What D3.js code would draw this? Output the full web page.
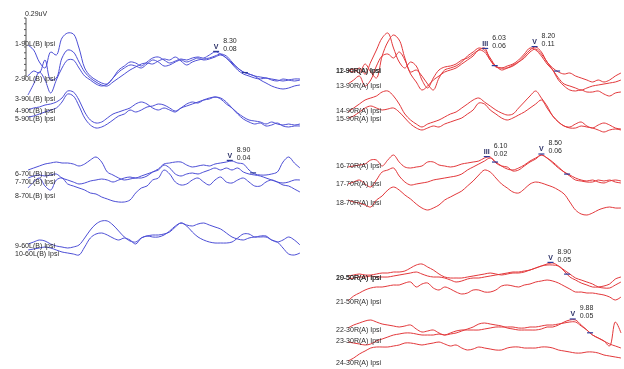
<!DOCTYPE html>
<html>
<head>
<meta charset="utf-8">
<script src="https://cdn.jsdelivr.net/npm/d3@7"></script>
<style>
  html, body { margin: 0; padding: 0; background: #fff; }
  text { font-family: "Liberation Sans", Arial, sans-serif; }
</style>
</head>
<body>
<svg id="chart" width="624" height="369"></svg>
<script>
// ---------------------------------------------------------------
// ABR recordings: amplitude in nV, sampled every 0.25 ms, 0–12 ms
// ---------------------------------------------------------------
const sampleStep = 0.25;
const sampleTimes = d3.range(0, 12 + sampleStep / 2, sampleStep);

const traceLabels = [
  "1-90L(B) Ipsi", "2-90L(B) Ipsi", "3-90L(B) Ipsi", "4-90L(B) Ipsi", "5-90L(B) Ipsi",
  "6-70L(B) Ipsi", "7-70L(B) Ipsi", "8-70L(B) Ipsi", "9-60L(B) Ipsi", "10-60L(B) Ipsi",
  "11-90R(A) Ipsi", "12-90R(A) Ipsi", "13-90R(A) Ipsi", "14-90R(A) Ipsi", "15-90R(A) Ipsi",
  "16-70R(A) Ipsi", "17-70R(A) Ipsi", "18-70R(A) Ipsi", "19-50R(A) Ipsi", "20-50R(A) Ipsi",
  "21-50R(A) Ipsi", "22-30R(A) Ipsi", "23-30R(A) Ipsi", "24-30R(A) Ipsi"
];

// Left ear (B)
const l1 = [0,-25,-85,-115,-35,-50,35,60,55,-15,-115,-155,-175,-190,-195,-165,-125,-105,-85,-90,-105,-85,-65,-60,-75,-90,-80,-70,-75,-65,-60,-65,-50,-35,-45,-65,-90,-115,-135,-145,-155,-175,-190,-205,-215,-220,-215,-205,-200];
const l2 = [10,35,25,90,-10,0,100,140,130,80,30,0,-20,-35,-40,-20,0,20,40,55,70,75,70,85,95,90,105,85,65,80,90,95,100,110,120,110,80,50,30,20,10,5,0,-5,-10,-15,-10,-5,-5];
const l3 = [10,65,125,85,20,85,145,185,185,145,105,85,65,55,65,95,125,145,160,155,145,165,185,175,155,160,175,185,175,185,195,185,190,200,210,195,165,135,115,105,95,90,95,85,80,90,85,80,85];
const l4 = [15,25,30,40,45,55,75,110,105,65,5,-35,-50,-45,-25,-5,5,15,25,45,55,45,25,15,25,15,5,25,35,45,55,65,70,80,70,45,25,0,-20,-35,-40,-45,-55,-45,-55,-60,-55,-60,-55];
const l5 = [5,10,20,30,40,50,80,120,110,60,0,-35,-50,-45,-30,-10,10,20,40,30,40,55,60,70,65,50,35,50,70,80,75,90,100,105,100,80,50,20,-5,-20,-30,-25,-40,-35,-25,-40,-45,-40,-40];
const l6 = [20,30,40,50,55,60,55,55,50,40,50,70,85,60,10,-5,-20,-30,-25,-20,-20,-10,10,25,50,55,60,60,45,35,40,45,40,50,55,60,65,55,50,20,0,-5,-5,0,10,60,85,55,30];
const l7 = [20,30,35,30,35,40,20,10,0,-10,-5,5,10,15,10,0,10,20,25,20,30,40,50,60,85,70,40,30,40,45,40,50,60,70,60,70,60,70,50,40,35,30,20,10,0,-5,0,10,10];
const l8 = [40,70,90,50,30,80,90,60,50,40,30,15,10,-5,-15,-25,-30,-30,-20,15,40,50,80,90,130,110,70,55,60,80,90,70,55,80,95,70,65,80,90,70,50,50,70,80,70,55,50,35,20];
const l9 = [20,30,40,35,20,10,5,0,5,15,50,90,120,135,135,115,85,55,35,30,50,60,65,65,70,80,105,125,110,80,55,40,30,25,25,25,30,50,70,70,55,60,60,40,30,40,55,40,15];
const l10 = [15,20,25,30,25,15,5,0,-5,-10,30,75,95,100,90,75,65,75,65,45,75,85,80,80,90,110,135,150,140,135,145,150,140,130,120,100,80,70,65,75,80,80,80,65,55,25,-5,-10,0];

// Right ear (A)
const r11 = [5,-5,15,-15,45,105,165,190,115,45,15,45,25,-45,-85,-35,5,20,25,35,55,65,85,105,115,55,20,15,15,25,45,75,105,120,95,45,15,-5,-15,-10,-25,-35,-45,-55,-45,-55,-45,-25,-10];
const r12 = [0,10,-10,35,-5,-35,75,145,180,155,65,-5,5,-25,-65,-95,-35,5,15,25,45,75,95,115,105,65,25,15,25,35,55,85,115,105,75,35,5,-35,-65,-75,-85,-95,-85,-75,-70,-65,-60,-55,-45];
const r13 = [10,30,50,0,30,100,150,160,140,170,130,60,20,-20,0,30,50,70,80,90,110,130,150,180,170,130,100,80,90,105,120,140,170,185,160,120,80,30,0,-20,-25,-20,-30,-30,-25,-40,-50,-35,-30];
const r14 = [10,30,50,70,80,90,110,115,90,50,0,-30,-50,-65,-50,-40,-30,-15,0,10,30,50,70,80,60,40,20,5,-5,0,30,60,90,115,80,40,-10,-40,-60,-65,-50,-40,-60,-70,-55,-45,-55,-70,-75];
const r15 = [0,10,30,50,60,50,40,45,50,30,0,-30,-50,-60,-50,-40,-45,-30,-20,-10,0,20,40,75,70,40,20,0,-10,0,15,30,50,70,90,50,10,-20,-40,-50,-50,-40,-45,-50,-60,-70,-60,-55,-60];
const r16 = [-5,0,5,10,30,30,0,30,55,20,-5,-10,-5,0,20,20,5,0,-5,0,10,15,20,25,40,45,15,0,-5,-25,-20,0,20,35,55,40,20,-5,-30,-50,-70,-75,-80,-80,-70,-75,-70,-80,-85];
const r17 = [0,10,20,0,-15,20,60,70,80,40,10,-5,0,5,10,20,25,30,35,40,50,70,85,100,115,130,110,90,75,70,80,95,115,130,145,130,105,80,60,45,30,20,15,20,10,5,15,20,15];
const r18 = [15,5,0,-10,-20,15,35,65,80,65,40,20,-5,-25,-35,-25,-10,15,30,45,60,85,110,140,165,155,125,95,75,55,50,70,95,105,100,90,80,65,45,5,-35,-55,-60,-50,-35,-25,-20,-25,-25];
const r19 = [10,15,20,15,15,20,25,25,30,30,35,50,65,70,55,40,20,5,0,0,0,5,10,15,20,25,20,15,20,25,25,30,40,50,60,70,75,60,35,5,-10,-25,-35,-45,-45,-40,-30,-5,5];
const r20 = [-5,0,5,5,10,5,5,5,10,15,20,25,30,20,10,5,5,0,-10,-20,-15,-5,0,0,5,10,15,20,25,30,30,35,40,50,60,65,65,60,40,20,0,-10,-20,-30,-45,-50,-50,-35,-20];
const r21 = [5,30,45,60,70,75,75,80,85,85,95,100,75,90,95,70,60,75,65,50,40,45,60,60,50,50,60,80,85,80,75,85,90,100,105,110,105,95,80,65,50,50,45,45,40,35,25,10,25];
const r22 = [10,25,35,45,50,40,30,25,20,15,20,25,5,-10,-5,0,-15,-25,-20,-15,-5,5,15,30,35,30,25,20,10,5,0,0,0,0,5,15,15,25,40,50,50,25,0,-25,-40,-55,-80,40,-15];
const r23 = [-5,-10,-15,-20,-15,0,10,20,30,35,40,40,35,30,30,30,35,30,40,50,55,55,55,55,60,65,70,70,70,70,65,65,70,70,75,80,80,85,90,95,95,75,55,30,15,0,-15,-25,-35];
const r24 = [10,25,45,60,75,80,80,80,85,90,100,100,95,90,95,100,105,95,85,90,75,65,70,80,75,70,65,65,75,80,80,75,75,75,80,80,75,65,60,55,50,50,55,55,50,40,35,30,25];

const traces = [l1, l2, l3, l4, l5, l6, l7, l8, l9, l10,
                r11, r12, r13, r14, r15, r16, r17, r18, r19, r20, r21, r22, r23, r24];

// Marked peaks: trace index, wave name, latency (ms), amplitude (µV), trough latency (ms)
const peakTrace     = [0, 5, 10, 10, 15, 15, 18, 21];
const peakWave      = ["V", "V", "III", "V", "III", "V", "V", "V"];
const peakLatency   = [8.30, 8.90, 6.03, 8.20, 6.10, 8.50, 8.90, 9.88];
const peakAmplitude = [0.08, 0.04, 0.06, 0.11, 0.02, 0.06, 0.05, 0.05];
const troughLatency = [9.57, 9.93, 6.45, 9.19, 6.46, 9.63, 9.63, 10.64];

// Calibration bar
const calibrationNV = 290;
const calibrationLabel = "0.29uV";

// ---------------------------------------------------------------
// Layout
// ---------------------------------------------------------------
const rowBaseline = [45, 78, 97, 113, 118, 174, 182, 196, 248, 253,
                     71, 71, 86, 114, 118, 166, 184, 203, 278, 278, 302, 330, 341, 363];
const labelY      = [44, 79, 99, 111, 119, 174, 182, 196, 246, 254,
                     71, 71, 86, 111, 119, 166, 184, 203, 278, 278, 302, 330, 341, 363];
const isLeft = (i) => i < 10;

const xLeft  = d3.scaleLinear().domain([0, 12]).range([28, 300]);
const xRight = d3.scaleLinear().domain([0, 12]).range([348, 621]);
const ampPx  = d3.scaleLinear().domain([0, 1000]).range([0, -200]);   // nV -> vertical offset

const colLeft = "#4d4fd6";
const colRight = "#e3383b";
const markCol = "#2c3b9c";
const textCol = "#2a2a2a";

const svg = d3.select("#chart");

// grayscale text rendering: route text groups through a pass-through filter
svg.append("defs").append("filter").attr("id", "flat")
  .append("feColorMatrix").attr("type", "identity");

function valueAt(arr, t) {
  const p = t / sampleStep;
  const i0 = Math.min(Math.floor(p), arr.length - 2);
  const f = p - i0;
  return arr[i0] * (1 - f) + arr[i0 + 1] * f;
}

// Waveforms
const gWaves = svg.append("g").attr("fill", "none").attr("stroke-width", 1);
traces.forEach((arr, k) => {
  const x = isLeft(k) ? xLeft : xRight;
  const base = rowBaseline[k];
  const line = d3.line()
    .x((d, i) => x(sampleTimes[i]))
    .y(d => base + ampPx(d))
    .curve(d3.curveCatmullRom.alpha(0.5));
  gWaves.append("path")
    .attr("d", line(arr))
    .attr("stroke", isLeft(k) ? colLeft : colRight)
    .attr("stroke-linejoin", "round");
});

// Trace labels
const gLabels = svg.append("g").attr("filter", "url(#flat)").attr("font-size", 7).attr("fill", textCol);
traceLabels.forEach((lab, k) => {
  gLabels.append("text")
    .attr("x", isLeft(k) ? 15 : 336)
    .attr("y", labelY[k])
    .attr("dy", "0.35em")
    .text(lab);
});

// Calibration bar with tick marks
const barX = 26, barTop = 18;
const barLen = -ampPx(calibrationNV);
const gBar = svg.append("g").attr("stroke", "#555").attr("stroke-width", 1);
gBar.append("line").attr("x1", barX).attr("x2", barX).attr("y1", barTop).attr("y2", barTop + barLen);
d3.range(0, calibrationNV + 1, calibrationNV / 10).forEach(v => {
  const y = barTop - ampPx(v);
  gBar.append("line").attr("x1", barX - 2).attr("x2", barX).attr("y1", y).attr("y2", y);
});
svg.append("text").attr("filter", "url(#flat)").attr("x", 25).attr("y", 16).attr("font-size", 7).attr("fill", textCol)
  .text(calibrationLabel);

// Peak and trough markers
const gMarks = svg.append("g").attr("filter", "url(#flat)");
peakTrace.forEach((k, m) => {
  const x = isLeft(k) ? xLeft : xRight;
  const base = rowBaseline[k];
  const px = x(peakLatency[m]);
  const py = base + ampPx(valueAt(traces[k], peakLatency[m]));
  const tx = x(troughLatency[m]);
  const ty = base + ampPx(valueAt(traces[k], troughLatency[m]));

  gMarks.append("line").attr("x1", px - 3).attr("x2", px + 3).attr("y1", py - 1).attr("y2", py - 1)
    .attr("stroke", markCol).attr("stroke-width", 1.2);
  gMarks.append("line").attr("x1", tx - 3).attr("x2", tx + 3).attr("y1", ty).attr("y2", ty)
    .attr("stroke", markCol).attr("stroke-width", 1.2);

  gMarks.append("text").attr("x", px).attr("y", py - 6).attr("dy", "0.35em")
    .attr("text-anchor", "middle").attr("font-size", 7).attr("font-weight", "bold")
    .attr("fill", "#2a2f66").text(peakWave[m]);
  gMarks.append("text").attr("x", px + 7).attr("y", py - 12).attr("dy", "0.35em")
    .attr("font-size", 7).attr("fill", textCol).text(peakLatency[m].toFixed(2));
  gMarks.append("text").attr("x", px + 7).attr("y", py - 4).attr("dy", "0.35em")
    .attr("font-size", 7).attr("fill", textCol).text(peakAmplitude[m].toFixed(2));
});
</script>
</body>
</html>
